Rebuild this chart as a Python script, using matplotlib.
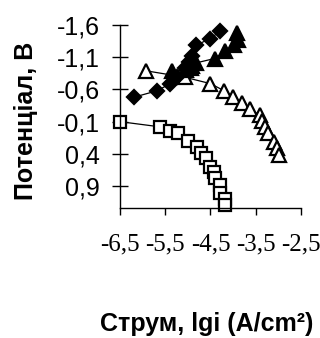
import numpy as np
import matplotlib.pyplot as plt

# open squares
sq_x = [-6.5, -5.62, -5.39, -5.21, -4.99, -4.79, -4.72, -4.59, -4.50, -4.43, -4.41, -4.30, -4.28, -4.19, -4.17]
sq_y = [-0.1, -0.02, 0.05, 0.08, 0.20, 0.29, 0.38, 0.46, 0.60, 0.68, 0.77, 0.88, 1.01, 1.10, 1.20]

# open triangles
ot_x = [-5.93, -5.07, -4.50, -4.20, -4.00, -3.80, -3.63, -3.40, -3.37, -3.29, -3.24, -3.09, -3.02, -2.98]
ot_y = [-0.89, -0.79, -0.69, -0.58, -0.49, -0.39, -0.29, -0.20, -0.11, -0.01, 0.08, 0.21, 0.31, 0.42]

# filled diamonds
fd_x = [-6.19, -5.68, -5.39, -5.24, -5.07, -4.98, -4.91, -4.81, -4.50, -4.28]
fd_y = [-0.48, -0.58, -0.69, -0.80, -0.93, -1.03, -1.12, -1.29, -1.39, -1.51]

# filled triangles
ft_x = [-5.35, -5.05, -4.94, -4.90, -4.83, -4.41, -4.17, -3.98, -3.89, -3.91]
ft_y = [-0.88, -0.90, -0.93, -0.97, -1.01, -1.08, -1.19, -1.29, -1.37, -1.47]

x_ticks = [-6.5, -5.5, -4.5, -3.5, -2.5]
y_ticks = [-1.6, -1.1, -0.6, -0.1, 0.4, 0.9]


def fmt(v):
    return f'{v:.1f}'.replace('.', ',')


fig = plt.figure(figsize=(3.2, 3.38), dpi=100)
ax = fig.add_axes([0.375, 0.3846, 0.5656, 0.5414])

style = dict(color='black', lw=0.9, clip_on=False, mew=1.6, mec='black')
ax.plot(sq_x, sq_y, marker='s', ms=8.5, mfc='white', **style)
ax.plot(ot_x, ot_y, marker='^', ms=10, mfc='white', **style)
ax.plot(fd_x, fd_y, marker='D', ms=7.5, mfc='black', **style)
ax.plot(ft_x, ft_y, marker='^', ms=10, mfc='black', **style)

ax.set_xlim(-6.5, -2.5)
ax.set_ylim(1.24, -1.6)
for s in ['top', 'right']:
    ax.spines[s].set_visible(False)
ax.spines['left'].set_linewidth(1)
ax.spines['bottom'].set_linewidth(1)

ax.set_xticks(x_ticks)
ax.set_xticklabels([fmt(v) for v in x_ticks], family='Liberation Serif', fontsize=18)
ax.set_yticks(y_ticks)
ax.set_yticklabels([fmt(v) for v in y_ticks], family='Liberation Sans', fontsize=18)
ax.tick_params(axis='x', direction='out', length=5, width=1, pad=13)
ax.tick_params(axis='y', direction='inout', length=11, width=1, pad=9)

fig.text(0.081, 0.642, 'Потенціал, В', rotation=90, ha='center', va='center',
         family='Liberation Sans', fontweight='bold', fontsize=18)
fig.text(0.647, 0.022, 'Струм, lgi (A/cm²)', ha='center', va='baseline',
         family='Liberation Sans', fontweight='bold', fontsize=18)

plt.savefig('out.png', dpi=100)
